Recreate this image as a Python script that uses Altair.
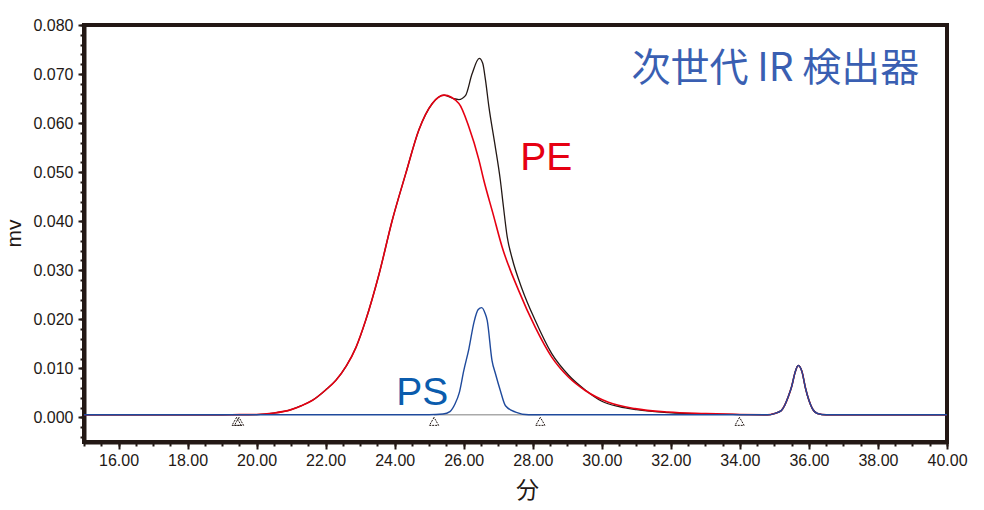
import altair as alt
import pandas as pd

# ---- data ----
pe_x = [15.0, 17.0, 19.0, 19.5, 20.0, 20.5, 21.0, 21.3, 21.62, 22.0, 22.3, 22.6, 22.88, 23.16,
        23.55, 23.93, 24.32, 24.7, 25.09, 25.43, 25.86, 26.15, 26.44, 26.58, 26.85, 27.11, 27.59,
        28.07, 28.55, 29.04, 29.52, 30.19, 30.96, 31.92, 33.0, 34.0, 34.8, 35.0, 35.2, 35.3, 35.4,
        35.5, 35.6, 35.69, 35.8, 35.9, 36.0, 36.1, 36.25, 36.5, 38.0, 40.0]
pe_y = [0.00055, 0.00055, 0.00055, 0.00058, 0.0006, 0.0009, 0.0016, 0.0024, 0.0035, 0.0056,
        0.0076, 0.0105, 0.0143, 0.0198, 0.0293, 0.0402, 0.0497, 0.0586, 0.0640, 0.0657, 0.0640,
        0.0592, 0.0525, 0.0484, 0.0415, 0.0348, 0.0259, 0.0184, 0.0123, 0.0082, 0.0055, 0.0031,
        0.0018, 0.0011, 0.0008, 0.0006, 0.00055, 0.0008, 0.0014, 0.0025, 0.0042, 0.0063, 0.0092,
        0.0106, 0.0093, 0.0060, 0.0035, 0.0018, 0.0008, 0.00055, 0.00055, 0.00055]

tot_x = [15.0, 17.0, 19.0, 19.5, 20.0, 20.5, 21.0, 21.3, 21.62, 22.0, 22.3, 22.6, 22.88, 23.16,
         23.55, 23.93, 24.32, 24.7, 25.09, 25.43, 25.7, 25.86, 26.05, 26.24, 26.45, 26.55, 26.63,
         26.73, 26.9, 27.06, 27.15, 27.26, 27.4, 27.69, 28.07, 28.55, 29.04, 29.52, 30.0, 30.5,
         31.0, 31.92, 33.0, 34.0, 34.8, 35.0, 35.2, 35.3, 35.4, 35.5, 35.6, 35.69, 35.8, 35.9,
         36.0, 36.1, 36.25, 36.5, 38.0, 40.0]
tot_y = [0.00055, 0.00055, 0.00055, 0.00058, 0.0006, 0.0009, 0.0016, 0.0024, 0.0035, 0.0056,
         0.0076, 0.0105, 0.0143, 0.0198, 0.0293, 0.0402, 0.0497, 0.0586, 0.0640, 0.0657, 0.0650,
         0.0648, 0.0656, 0.0700, 0.0732, 0.0722, 0.0688, 0.0633, 0.0558, 0.0484, 0.0430, 0.0368,
         0.0325, 0.0262, 0.0198, 0.0130, 0.0086, 0.0056, 0.0033, 0.0022, 0.0016, 0.0010, 0.0007,
         0.0006, 0.00055, 0.0008, 0.0014, 0.0025, 0.0042, 0.0063, 0.0092, 0.0106, 0.0093, 0.0060,
         0.0035, 0.0018, 0.0008, 0.00055, 0.00055, 0.00055]

ps_x = [15.0, 20.0, 25.0, 25.4, 25.6, 25.75, 25.87, 26.0, 26.15, 26.3, 26.42, 26.52, 26.62,
        26.68, 26.82, 26.92, 27.06, 27.21, 27.5, 27.88, 30.0, 34.8, 35.0, 35.2, 35.3, 35.4, 35.5,
        35.6, 35.69, 35.8, 35.9, 36.0, 36.1, 36.25, 36.5, 38.0, 40.0]
ps_y = [0.00055, 0.00055, 0.00055, 0.0007, 0.0012, 0.0028, 0.0050, 0.0095, 0.0140, 0.0195,
        0.0220, 0.0224, 0.0212, 0.0198, 0.0116, 0.0089, 0.0055, 0.0024, 0.0011, 0.00055, 0.00055,
        0.00055, 0.0008, 0.0014, 0.0025, 0.0042, 0.0063, 0.0092, 0.0106, 0.0093, 0.0060, 0.0035,
        0.0018, 0.0008, 0.00055, 0.00055, 0.00055]

base_x = [25.14, 28.22]
base_y = [0.00055, 0.00055]

marker_x = [19.42, 19.49, 25.14, 28.22, 33.99]
marker_y = [-0.0008, -0.0008, -0.0008, -0.0008, -0.0008]

x_major = [16.0 + 2 * i for i in range(13)]
x_minor = [15.0 + 0.5 * i for i in range(51)]
y_major = [round(0.01 * i, 3) for i in range(9)]
y_minor = [round(-0.004 + 0.002 * i, 3) for i in range(43)]

labels_text = ["次世代 IR 検出器", "PE", "PS"]
labels_x = [35.03, 28.39, 24.80]
labels_y = [0.0710, 0.0529, 0.0049]

# ---- chart ----
INK = "#231815"
FONT = "Liberation Sans"

def xscale():
    return alt.Scale(domain=[15, 40], nice=False, zero=False)

def yscale():
    return alt.Scale(domain=[-0.005, 0.080], nice=False, zero=False)

xaxis = alt.Axis(
    orient="bottom", values=x_major, format=".2f", tickSize=7, tickWidth=2, tickColor=INK,
    domainColor=INK, domainWidth=4, labelFont=FONT, labelFontSize=16, labelColor=INK,
    labelPadding=3, grid=False, title="分", titleFont="Noto Sans CJK JP", titleFontSize=23,
    titleFontWeight="normal", titleColor=INK, titleX=443, titleY=48, titleBaseline="middle",
    titleAlign="center", labelFlush=False, labelOverlap=False,
)
yaxis = alt.Axis(
    orient="left", values=y_major, format=".3f", tickSize=6, tickWidth=2, tickColor=INK,
    domainColor=INK, domainWidth=4, labelFont=FONT, labelFontSize=16, labelColor=INK,
    labelPadding=5, grid=False, title="mv", titleFont=FONT, titleFontSize=21,
    titleFontWeight="normal", titleColor=INK, titleX=-70, titleY=208, titleAngle=270,
    titleBaseline="middle", titleAlign="center", labelFlush=False, labelOverlap=False,
)
xaxis_minor = alt.Axis(orient="bottom", values=x_minor, labels=False, tickSize=4, tickWidth=2,
                       tickColor=INK, domain=False, grid=False, title=None)
yaxis_minor = alt.Axis(orient="left", values=y_minor, labels=False, tickSize=4, tickWidth=2,
                       tickColor=INK, domain=False, grid=False, title=None)

df_tot = pd.DataFrame({"x": tot_x, "y": tot_y})
df_pe = pd.DataFrame({"x": pe_x, "y": pe_y})
df_ps = pd.DataFrame({"x": ps_x, "y": ps_y})
df_base = pd.DataFrame({"x": base_x, "y": base_y})
df_mk = pd.DataFrame({"x": marker_x, "y": marker_y})
df_lab = pd.DataFrame({"t": labels_text, "x": labels_x, "y": labels_y})

minor = alt.Chart(df_tot).mark_line(opacity=0).encode(
    x=alt.X("x:Q", scale=xscale(), axis=xaxis_minor),
    y=alt.Y("y:Q", scale=yscale(), axis=yaxis_minor),
)

tot = alt.Chart(df_tot).mark_line(color=INK, strokeWidth=1.3, interpolate="monotone").encode(
    x=alt.X("x:Q", scale=xscale(), axis=xaxis),
    y=alt.Y("y:Q", scale=yscale(), axis=yaxis),
)
pe = alt.Chart(df_pe).mark_line(color="#e60012", strokeWidth=1.6, interpolate="monotone").encode(
    x="x:Q", y="y:Q")
base = alt.Chart(df_base).mark_line(color="#aaaaaa", strokeWidth=1.5).encode(x="x:Q", y="y:Q")
ps = alt.Chart(df_ps).mark_line(color="#1f4a9c", strokeWidth=1.4, interpolate="monotone").encode(
    x="x:Q", y="y:Q")
mk = alt.Chart(df_mk).mark_point(shape="triangle-up", filled=False, color=INK, size=85,
                                 strokeWidth=1, strokeDash=[2, 1], opacity=1).encode(
    x="x:Q", y="y:Q")

lab_color = alt.Color("t:N", scale=alt.Scale(domain=labels_text,
                                             range=["#3a5fb2", "#e60012", "#0b5cad"]), legend=None)
title_txt = alt.Chart(df_lab.iloc[[0]]).mark_text(
    font="Noto Sans CJK JP", fontSize=39, align="center", baseline="middle").encode(
    x="x:Q", y="y:Q", text="t:N", color=lab_color)
pe_ps_txt = alt.Chart(df_lab.iloc[[1, 2]]).mark_text(
    font=FONT, fontSize=39, align="center", baseline="middle").encode(
    x="x:Q", y="y:Q", text="t:N", color=lab_color)

main = alt.layer(tot, pe, base, ps, mk, title_txt, pe_ps_txt)

chart = alt.layer(minor, main).resolve_scale(x="independent", y="independent").properties(
    width=863, height=417,
    autosize=alt.AutoSizeParams(type="none"),
    padding={"left": 84, "top": 25, "right": 37, "bottom": 68},
    background="white",
).configure_view(stroke=INK, strokeWidth=4)

chart.save("out.html", embed_options={"renderer": "svg", "actions": False})
